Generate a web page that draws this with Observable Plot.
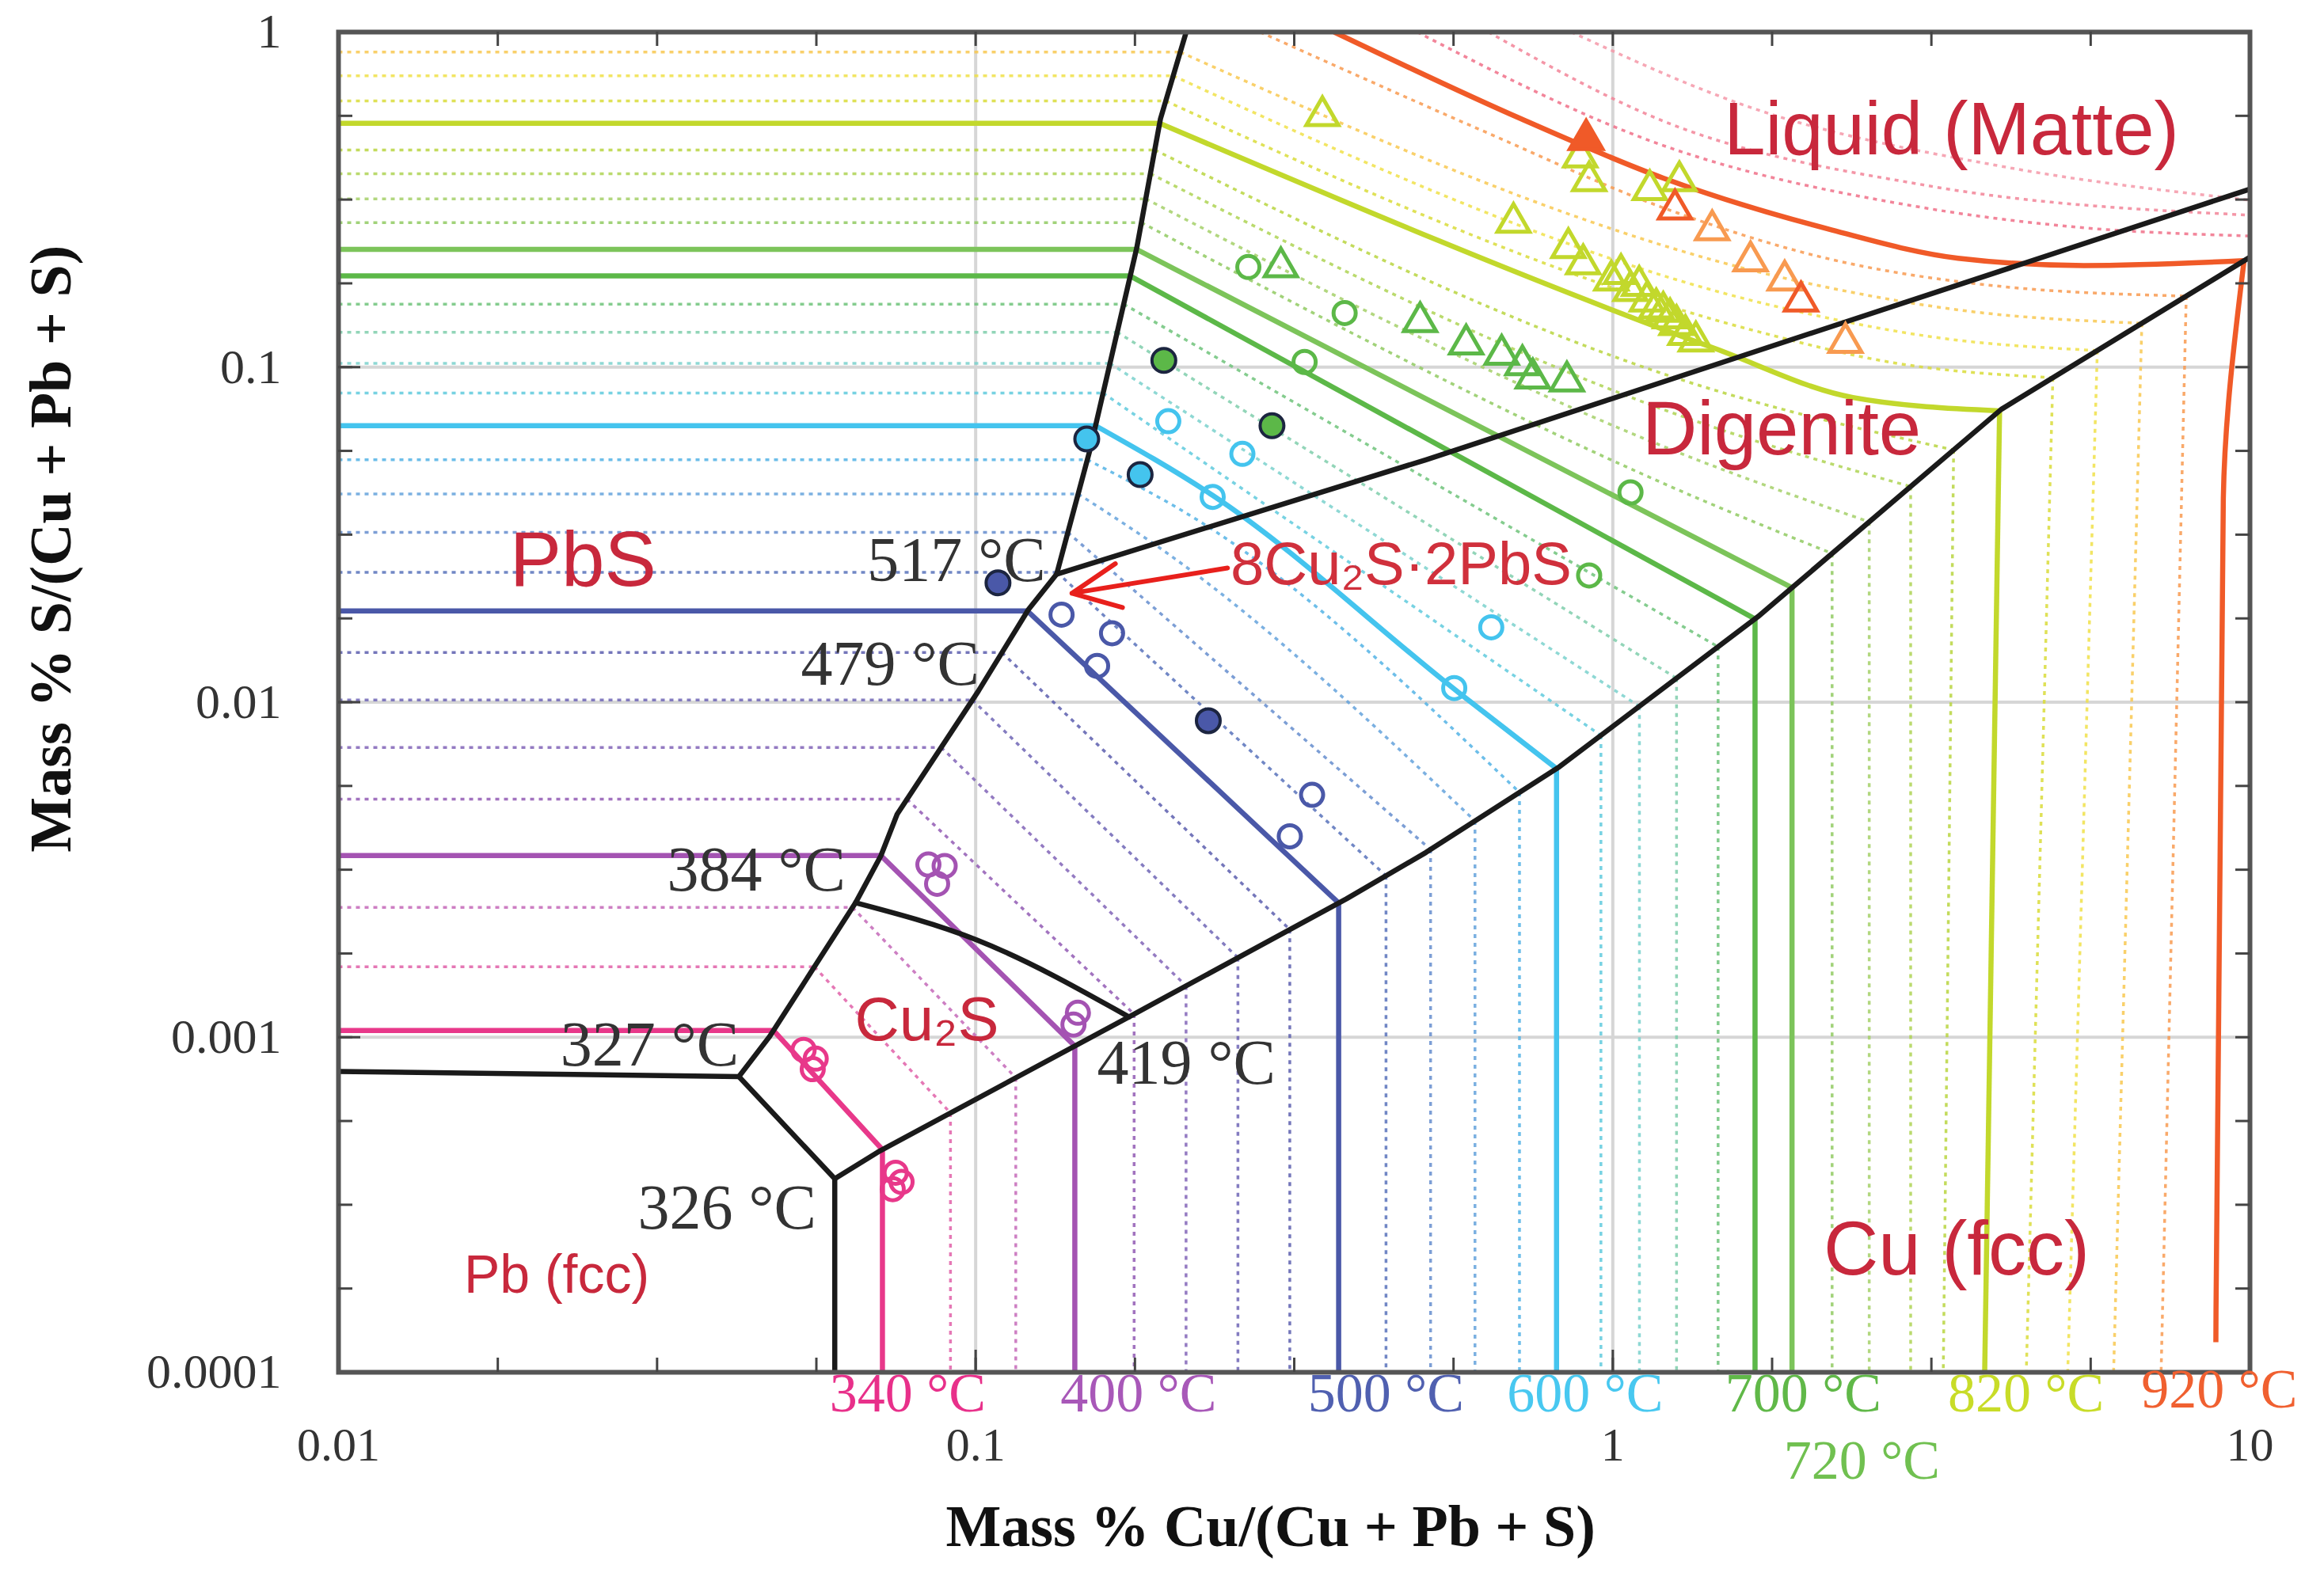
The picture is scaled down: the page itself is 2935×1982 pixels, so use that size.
<!DOCTYPE html>
<html>
<head>
<meta charset="utf-8">
<script src="https://cdn.jsdelivr.net/npm/d3@7"></script>
<script src="https://cdn.jsdelivr.net/npm/@observablehq/plot@0.6"></script>
<style>
  html, body { margin: 0; padding: 0; background: #fff; overflow: hidden; }
</style>
</head>
<body>
<div id="chart"></div>
<script>
// ---------------- DATA ----------------
// Phase boundaries [Cu mass %, S mass %]
const pbsBoundary = [[0.214,1],[0.195,0.551],[0.179,0.227],[0.151,0.0562],[0.134,0.0241],[0.121,0.0189],[0.101,0.0108],[0.0753,0.00463],[0.071,0.00348],[0.0648,0.00252],[0.0475,0.001005],[0.0425,0.000763]];
const eutecticLine = [[0.01,0.00079],[0.0425,0.000763]];
const pbFccBoundary = [[0.0425,0.000763],[0.0601,0.000378],[0.0601,0.0001]];
const cuBoundary = [[0.0601,0.000378],[0.0702,0.000454],[0.174,0.00115],[0.382,0.00259],[0.509,0.00356],[0.825,0.00642],[1.69,0.018],[4.07,0.0748],[10,0.213]];
const liquidBoundary = [[0.134,0.0241],[0.509,0.0529],[10,0.34]];
const cu2sBoundary = [[0.0648,0.00252],[0.1005,0.00195],[0.174,0.00115]];

// Isotherms (°C)
const temps = [340,360,380,400,420,440,460,480,500,520,540,560,580,600,620,640,660,680,700,720,740,760,780,800,820,840,860,880,900,920,940,960,980];
const solidTemps = [340,400,500,600,700,720,820,920];
// S level of the isotherm in the PbS field
const yPbS = [0.001047,0.001622,0.002439,0.003483,0.005132,0.007328,0.01015,0.01406,0.01871,0.02439,0.0321,0.04183,0.05291,0.06687,0.08368,0.1026,0.1271,0.1542,0.1871,0.2247,0.27,0.3178,0.3779,0.4448,0.5343,0.6226,0.7403,0.8715,null,null,null,null,null];
// Cu level of the isotherm in the Cu(fcc) field: at the boundary and at the bottom
const xCuTop = [0.0714,0.0913,0.1156,0.1431,0.1773,0.2139,0.258,0.3112,0.3713,0.4406,0.5176,0.6077,0.7137,0.816,0.958,1.101,1.259,1.463,1.672,1.911,2.209,2.526,2.934,3.427,4.046,4.905,5.76,6.766,7.943,9.788,null,null,null];
const xCuBottom = [0.0714,0.0913,0.1156,0.1431,0.1773,0.2139,0.258,0.3112,0.3713,0.4406,0.5176,0.6077,0.7137,0.816,0.958,1.101,1.259,1.463,1.672,1.911,2.209,2.526,2.934,3.301,3.834,4.456,5.176,6.109,7.253,8.841,null,null,null];
// Intermediate points of the isotherms in the digenite / liquid fields
const bends = [
  [],[],[],[],[],[],[],[],[],[],[],
  [[0.2028,0.02728]],
  [[0.2256,0.03448]],
  [[0.2355,0.04142],[0.5729,0.01068]],
  [],[],[],[],[],[],
  [[1.394,0.03977]],
  [[1.394,0.05184]],
  [[1.394,0.06756]],
  [[1.394,0.08715]],
  [[1.447,0.1136],[2.381,0.08115]],
  [[1.637,0.1297],[2.796,0.1026]],
  [[1.822,0.1511],[3.283,0.122]],
  [[1.974,0.1797],[3.654,0.1465]],
  [[0.2796,1],[0.6243,0.5077],[1.2,0.299],[2.209,0.2093],[3.855,0.176]],
  [[0.3654,1],[0.7175,0.5509],[1.2,0.3665],[2.209,0.2566],[3.483,0.2114],[5.49,0.201]],
  [[0.4932,1],[1.2,0.4586],[2.982,0.302],[5.317,0.2619],[10,0.2463]],
  [[0.6378,1],[1.2,0.5426],[3.112,0.3483],[10,0.2842]],
  [[0.8608,1],[1.637,0.5977],[4.068,0.3977],[10,0.315]]
];
const vertBend920 = [9.082,0.0406];
const vertEnd920 = 0.000123;

// Experimental points [Cu, S, T]
const filledCircles = [[0.1084,0.02271,500],[0.2318,0.008805,500],[0.1494,0.06101,600],[0.1812,0.04777,600],[0.1974,0.1047,700],[0.2918,0.06687,700]];
const openCircles = [
  [0.0537,0.000917,340],[0.0561,0.000863,340],[0.0555,0.000803,340],
  [0.0749,0.000394,340],[0.0765,0.00037,340],[0.0741,0.000352,340],
  [0.0843,0.003277,400],[0.0894,0.003244,400],[0.087,0.002871,400],
  [0.1447,0.001183,400],[0.1424,0.001091,400],
  [0.1364,0.01825,500],[0.1637,0.01606,500],[0.1551,0.01283,500],[0.3373,0.00529,500],[0.3112,0.003977,500],
  [0.2006,0.06895,600],[0.2622,0.0551,600],[0.2355,0.041,600],[0.6445,0.01673,600],[0.5638,0.01102,600],
  [0.2679,0.1989,700],[0.3794,0.145,700],[0.3283,0.1036,700],[1.066,0.04227,700],[0.918,0.02389,700]
];
const openTriangles = [
  [0.3501,0.5623,820],[0.8889,0.4229,820],[0.918,0.3592,820],[1.143,0.3379,820],[1.272,0.3592,820],[0.6984,0.27,820],[0.8516,0.2271,820],
  [0.8985,0.203,820],[0.9947,0.1815,820],[1.03,0.19,820],[1.066,0.169,820],[1.1,0.175,820],[1.131,0.1573,820],[1.17,0.15,820],[1.2,0.1465,820],[1.23,0.14,820],[1.259,0.1337,820],[1.3,0.125,820],[1.35,0.1195,820],
  [0.3013,0.1989,700],[0.4984,0.1365,700],[0.5886,0.1171,700],[0.6692,0.1091,700],[0.7213,0.1015,700],[0.7489,0.09265,700],[0.8471,0.09078,700],
  [1.252,0.296,920],[1.432,0.2566,900],[1.645,0.2072,900],[1.861,0.1815,900],[1.974,0.1573,920],[2.318,0.1183,900]
];
const filledTriangles = [[0.9081,0.4777,920]];

// Axis ticks
const xTickLabels = [0.01, 0.1, 1, 10];
const yTickLabels = [1, 0.1, 0.01, 0.001, 0.0001];

// ---------------- STYLE ----------------
const colorStops = [340,360,380,400,450,500,550,600,650,700,720,760,820,860,880,900,920,940,980];
const colorRange = ["#e8388a","#e060a8","#c468b8","#a453b2","#7868b8","#4a58a8","#6c9ad8","#44c4ee","#88d4c4","#5cb848","#7cc45a","#a4d068","#c2d82c","#f0e048","#f8c850","#f89a50","#f05a28","#f07088","#f498a8"];
const tempColor = d3.scaleLinear().domain(colorStops).range(colorRange).interpolate(d3.interpolateRgb);

const W = 2935, H = 1982, mL = 427, mR = 94, mT = 40, mB = 249;
const innerW = W - mL - mR, innerH = H - mT - mB;
const SERIF = "'Liberation Serif', 'Times New Roman', serif";
const SANS = "'Liberation Sans', Arial, sans-serif";
const RED = "#c8283c";

// ---------------- GEOMETRY HELPERS ----------------
const lg = Math.log10;
function xOnPbS(y) {
  const ly = lg(y);
  for (let i = 0; i < pbsBoundary.length - 1; i++) {
    const [xa, ya] = pbsBoundary[i], [xb, yb] = pbsBoundary[i + 1];
    if (ly <= lg(ya) && ly >= lg(yb)) {
      const t = (ly - lg(ya)) / (lg(yb) - lg(ya));
      return 10 ** (lg(xa) + t * (lg(xb) - lg(xa)));
    }
  }
  return pbsBoundary[pbsBoundary.length - 1][0];
}
function yOnCu(x) {
  const lx = lg(x);
  for (let i = 0; i < cuBoundary.length - 1; i++) {
    const [xa, ya] = cuBoundary[i], [xb, yb] = cuBoundary[i + 1];
    if (lx >= lg(xa) && lx <= lg(xb)) {
      const t = (lx - lg(xa)) / (lg(xb) - lg(xa));
      return 10 ** (lg(ya) + t * (lg(yb) - lg(ya)));
    }
  }
  return cuBoundary[cuBoundary.length - 1][1];
}

const segs = {solid: {h: [], d: [], v: []}, dot: {h: [], d: [], v: []}};
temps.forEach((T, i) => {
  const S = solidTemps.includes(T) ? segs.solid : segs.dot;
  const c = tempColor(T);
  const diag = [];
  if (yPbS[i] != null) {
    const xb = xOnPbS(yPbS[i]);
    S.h.push({id: T, x: 0.01, y: yPbS[i], c}, {id: T, x: xb, y: yPbS[i], c});
    diag.push([xb, yPbS[i]]);
  }
  bends[i].forEach(p => diag.push(p));
  if (xCuTop[i] != null) {
    const yt = yOnCu(xCuTop[i]);
    diag.push([xCuTop[i], yt]);
    S.v.push({id: T, x: xCuTop[i], y: yt, c});
    if (T === 920) {
      S.v.push({id: T, x: vertBend920[0], y: vertBend920[1], c});
      S.v.push({id: T, x: xCuBottom[i], y: vertEnd920, c});
    } else {
      S.v.push({id: T, x: xCuBottom[i], y: 0.0001, c});
    }
  }
  diag.forEach(([x, y]) => S.d.push({id: T, x, y, c}));
});

function isoMarks(S, solid) {
  const base = {x: "x", y: "y", z: "id", stroke: d => d.c, clip: true,
    strokeWidth: solid ? 6.5 : 3.5,
    strokeOpacity: solid ? 1 : 0.85,
    strokeDasharray: solid ? null : "5,6",
    strokeLinecap: "butt"};
  return [
    Plot.line(S.h, {...base, curve: "linear"}),
    Plot.line(S.d, {...base, curve: "monotone-x"}),
    Plot.line(S.v, {...base, curve: "monotone-y"})
  ];
}

const boundaryStyle = {x: d => d[0], y: d => d[1], stroke: "#1a1a1a", strokeWidth: 6.5, clip: true, strokeLinejoin: "round"};

// ticks every quarter decade
const xMinor = d3.range(1, 12).map(k => 10 ** (-2 + k / 4));
const yMinor = d3.range(1, 16).map(k => 10 ** (-4 + k / 4));
const isDecade = v => Math.abs(lg(v) - Math.round(lg(v))) < 1e-6;

const bottomTempLabels = [
  {x: 0.0782, t: "340 °C", c: "#e8308a", row: 0},
  {x: 0.1802, t: "400 °C", c: "#a858b8", row: 0},
  {x: 0.4406, t: "500 °C", c: "#5060b0", row: 0},
  {x: 0.905, t: "600 °C", c: "#48c8f0", row: 0},
  {x: 1.99, t: "700 °C", c: "#60b848", row: 0},
  {x: 4.45, t: "820 °C", c: "#c8dc28", row: 0},
  {x: 8.95, t: "920 °C", c: "#f06030", row: 2},
  {x: 2.459, t: "720 °C", c: "#70c050", row: 1}
];

const chart = Plot.plot({
  width: W, height: H,
  marginLeft: mL, marginRight: mR, marginTop: mT, marginBottom: mB,
  x: {type: "log", domain: [0.01, 10], axis: null},
  y: {type: "log", domain: [0.0001, 1], axis: null},
  color: {type: "identity"},
  style: {background: "#fff", fontFamily: SERIF, overflow: "visible"},
  marks: [
    // decade grid
    Plot.ruleX([0.1, 1], {stroke: "#d6d6d6", strokeWidth: 4}),
    Plot.ruleY([0.1, 0.01, 0.001], {stroke: "#d6d6d6", strokeWidth: 4}),
    // isotherms
    ...isoMarks(segs.dot, false),
    ...isoMarks(segs.solid, true),
    // phase boundaries
    Plot.line(pbsBoundary, boundaryStyle),
    Plot.line(eutecticLine, boundaryStyle),
    Plot.line(pbFccBoundary, boundaryStyle),
    Plot.line(cuBoundary, boundaryStyle),
    Plot.line(liquidBoundary, boundaryStyle),
    Plot.line(cu2sBoundary, {...boundaryStyle, curve: "monotone-x"}),
    // experimental points
    Plot.dot(openCircles, {x: d => d[0], y: d => d[1], stroke: d => tempColor(d[2]), fill: "none", r: 14, strokeWidth: 5}),
    Plot.dot(filledCircles, {x: d => d[0], y: d => d[1], fill: d => tempColor(d[2]), stroke: "#1c2540", r: 15, strokeWidth: 4}),
    Plot.dot(openTriangles, {x: d => d[0], y: d => d[1], stroke: d => tempColor(d[2]), fill: "none", symbol: "triangle", r: 15, strokeWidth: 5}),
    Plot.dot(filledTriangles, {x: d => d[0], y: d => d[1], fill: d => tempColor(d[2]), stroke: d => tempColor(d[2]), symbol: "triangle", r: 16, strokeWidth: 4}),
    // arrow to 8Cu2S·2PbS
    Plot.arrow([{x1: 0.2485, y1: 0.02515, x2: 0.1416, y2: 0.02114}], {x1: "x1", y1: "y1", x2: "x2", y2: "y2", stroke: "#e8201c", strokeWidth: 6, headLength: 36, headAngle: 50}),
    // phase labels
    Plot.text([
      {x: 3.4, y: 0.5077, t: "Liquid (Matte)", s: 94},
      {x: 1.841, y: 0.0648, t: "Digenite", s: 96},
      {x: 0.0242, y: 0.02646, t: "PbS", s: 98},
      {x: 3.464, y: 0.0002317, t: "Cu (fcc)", s: 96},
      {x: 0.0838, y: 0.001124, t: "Cu₂S", s: 78},
      {x: 0.022, y: 0.000195, t: "Pb (fcc)", s: 68}
    ], {x: "x", y: "y", text: "t", fontSize: d => d.s, fill: RED, fontFamily: SANS, textAnchor: "middle", lineAnchor: "middle"}),
    Plot.text([{x: 0.2512, y: 0.02567, t: "8Cu₂S·2PbS"}], {x: "x", y: "y", text: "t", fontSize: 76, fill: "#d0303c", fontFamily: SANS, textAnchor: "start", lineAnchor: "middle"}),
    // invariant temperatures
    Plot.text([
      {x: 0.0676, y: 0.02646, t: "517 °C"},
      {x: 0.0532, y: 0.01297, t: "479 °C"},
      {x: 0.0328, y: 0.003146, t: "384 °C"},
      {x: 0.0223, y: 0.000946, t: "327 °C"},
      {x: 0.0295, y: 0.000308, t: "326 °C"},
      {x: 0.1551, y: 0.000837, t: "419 °C"}
    ], {x: "x", y: "y", text: "t", fontSize: 80, fill: "#333", fontFamily: SERIF, textAnchor: "start", lineAnchor: "middle"}),
    // frame and ticks
    Plot.frame({stroke: "#555", strokeWidth: 6}),
    Plot.ruleX(xMinor, {x: d => d, stroke: "#444", strokeWidth: 3, insetTop: innerH - 18}),
    Plot.ruleX(xMinor.filter(isDecade), {x: d => d, stroke: "#444", strokeWidth: 3, insetTop: innerH - 28}),
    Plot.ruleX(xMinor, {x: d => d, stroke: "#444", strokeWidth: 3, insetBottom: innerH - 18}),
    Plot.ruleY(yMinor, {y: d => d, stroke: "#444", strokeWidth: 3, insetRight: innerW - 18}),
    Plot.ruleY(yMinor.filter(isDecade), {y: d => d, stroke: "#444", strokeWidth: 3, insetRight: innerW - 28}),
    Plot.ruleY(yMinor, {y: d => d, stroke: "#444", strokeWidth: 3, insetLeft: innerW - 18}),
    // tick labels
    Plot.text(xTickLabels, {x: d => d, text: d => String(d), frameAnchor: "bottom", dy: 92, fontSize: 60, fill: "#333", fontFamily: SERIF, textAnchor: "middle", lineAnchor: "middle"}),
    Plot.text(yTickLabels, {y: d => d, text: d => String(d), frameAnchor: "left", dx: -72, fontSize: 62, fill: "#333", fontFamily: SERIF, textAnchor: "end", lineAnchor: "middle"}),
    // temperature labels under the axis
    Plot.text(bottomTempLabels.filter(d => d.row === 0), {x: "x", text: "t", fill: "c", frameAnchor: "bottom", dy: 27, fontSize: 70, fontFamily: SERIF, textAnchor: "middle", lineAnchor: "middle"}),
    Plot.text(bottomTempLabels.filter(d => d.row === 2), {x: "x", text: "t", fill: "c", frameAnchor: "bottom", dy: 22, fontSize: 70, fontFamily: SERIF, textAnchor: "middle", lineAnchor: "middle"}),
    Plot.text(bottomTempLabels.filter(d => d.row === 1), {x: "x", text: "t", fill: "c", frameAnchor: "bottom", dy: 112, fontSize: 70, fontFamily: SERIF, textAnchor: "middle", lineAnchor: "middle"}),
    // axis titles
    Plot.text([{x: 0.2903, t: "Mass % Cu/(Cu + Pb + S)"}], {x: "x", text: "t", frameAnchor: "bottom", dy: 196, fontSize: 74, fontWeight: "bold", fill: "#111", fontFamily: SERIF, textAnchor: "middle", lineAnchor: "middle"}),
    Plot.text([{y: 0.0287, t: "Mass % S/(Cu + Pb + S)"}], {y: "y", text: "t", frameAnchor: "left", dx: -362, rotate: -90, fontSize: 74, fontWeight: "bold", fill: "#111", fontFamily: SERIF, textAnchor: "middle", lineAnchor: "middle"})
  ]
});
document.getElementById("chart").appendChild(chart);
</script>
</body>
</html>
